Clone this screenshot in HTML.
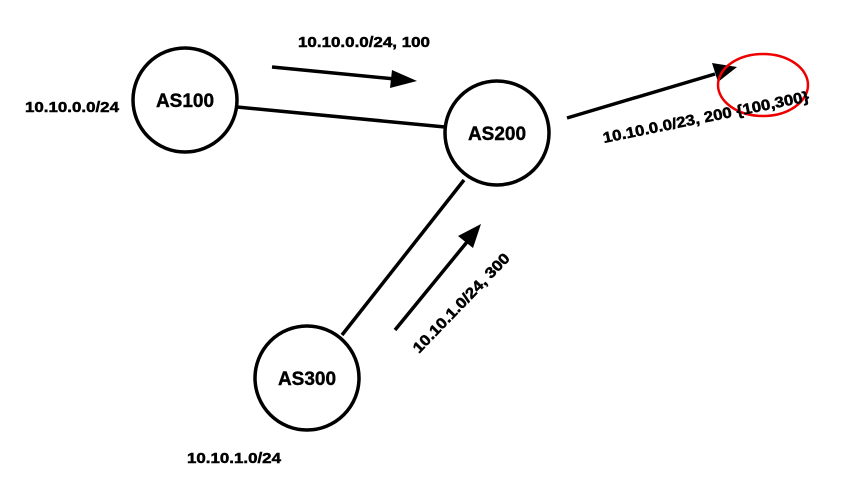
<!DOCTYPE html>
<html><head><style>body{margin:0;background:#fff}</style></head><body>
<svg width="850" height="486" viewBox="0 0 850 486" xmlns="http://www.w3.org/2000/svg" font-family="Liberation Sans, Arial, sans-serif" font-weight="bold">
<g stroke="#000" stroke-width="3.5" fill="none">
<line x1="237" y1="107" x2="445" y2="127"/>
<line x1="464" y1="180" x2="342" y2="335"/>
<circle cx="185" cy="100" r="52"/>
<circle cx="497" cy="133" r="52"/>
<circle cx="307" cy="378" r="52"/>
<line x1="272" y1="67" x2="395" y2="79"/>
<line x1="567" y1="118" x2="715" y2="74"/>
<line x1="395" y1="330" x2="467" y2="242"/>
</g>
<g fill="#000">
<polygon points="417,81 392,70 390,88"/>
<polygon points="737,67 712,63 718,82"/>
<polygon points="481,224 458,236 473,248"/>
</g>
<ellipse cx="763" cy="85" rx="45" ry="31" stroke="#e00" stroke-width="2.5" fill="none"/>
<g font-size="19" text-anchor="middle" stroke="#000" stroke-width="0.4">
<text x="185" y="107">AS100</text>
<text x="497" y="140">AS200</text>
<text x="307" y="385">AS300</text>
</g>
<g font-size="15" stroke="#000" stroke-width="0.5">
<text x="298" y="47" textLength="132" lengthAdjust="spacingAndGlyphs">10.10.0.0/24, 100</text>
<text x="25" y="112" textLength="94" lengthAdjust="spacingAndGlyphs">10.10.0.0/24</text>
<text x="187" y="463" textLength="94" lengthAdjust="spacingAndGlyphs">10.10.1.0/24</text>
<text x="0" y="0" textLength="210" lengthAdjust="spacingAndGlyphs" transform="translate(604,143) rotate(-11.5)">10.10.0.0/23, 200 {100,300}</text>
<text x="0" y="0" textLength="132" lengthAdjust="spacingAndGlyphs" transform="translate(419,354) rotate(-46)">10.10.1.0/24, 300</text>
</g>
</svg>
</body></html>
